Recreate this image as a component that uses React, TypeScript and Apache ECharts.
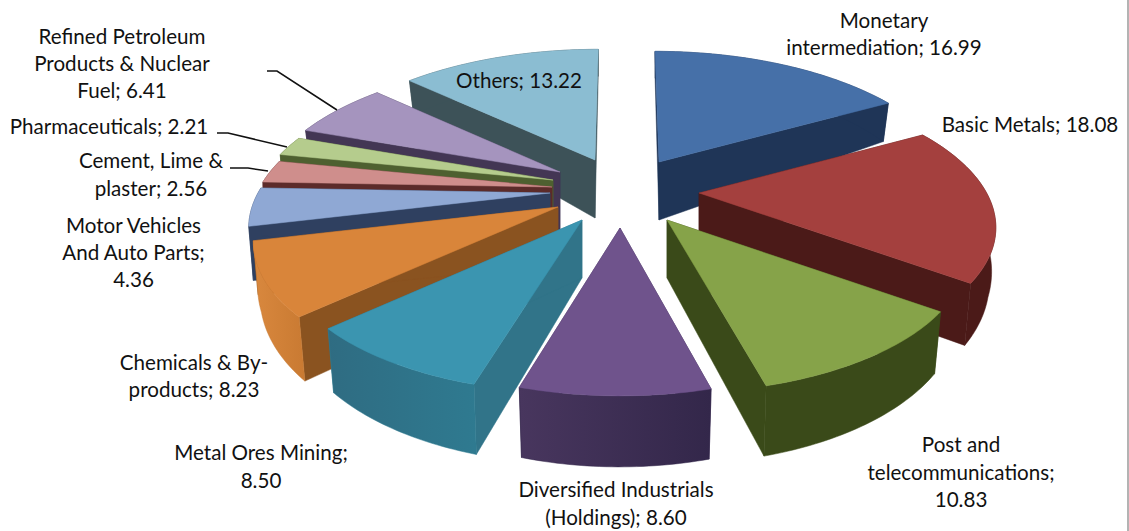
import React, { useEffect, useRef } from "react";
import * as echarts from "echarts";

const categories = [
  "Monetary intermediation", "Basic Metals", "Post and telecommunications", "Diversified Industrials (Holdings)",
  "Metal Ores Mining", "Chemicals & By-products", "Motor Vehicles And Auto Parts", "Cement, Lime & plaster",
  "Pharmaceuticals", "Refined Petroleum Products & Nuclear Fuel", "Others",
];
const values = [16.99, 18.08, 10.83, 8.6, 8.5, 8.23, 4.36, 2.56, 2.21, 6.41, 13.22];
const labelTexts = [
  "Monetary\nintermediation; 16.99", "Basic Metals; 18.08", "Post and\ntelecommunications;\n10.83",
  "Diversified Industrials\n(Holdings); 8.60", "Metal Ores Mining;\n8.50", "Chemicals & By-\nproducts; 8.23",
  "Motor Vehicles\nAnd Auto Parts;\n4.36", "Cement, Lime &\nplaster; 2.56", "Pharmaceuticals; 2.21",
  "Refined Petroleum\nProducts & Nuclear\nFuel; 6.41", "Others; 13.22",
];
const labelCenters = [
  [884, 33.5], [1030, 124], [961, 471.5], [616, 503], [261, 466], [194, 375.5], [133.5, 252], [151, 174], [109, 126], [122, 63], [519, 80],
];
const topColors = ["#4670A8", "#A4403E", "#86A349", "#6F538C", "#3B95B0", "#D9853A", "#8FA8D4", "#CF8E8C", "#B5CC8D", "#A594BE", "#8BBDD2"];
const wallColors = ["#1F3557", "#4B1A18", "#3A4A19", "#433358", "#317489", "#8A5320", "#2F4060", "#5C2B2A", "#4E6030", "#433654", "#3D5258"];
const rimFrom = ["#1F3557", "#4B1A18", "#3A4A19", "#33274A", "#2F7A90", "#C97A32", "#2F4060", "#5C2B2A", "#4E6030", "#433654", "#3D5258"];
const rimTo = ["#1F3557", "#4B1A18", "#3A4A19", "#48365E", "#2F6C82", "#D9883E", "#2F4060", "#5C2B2A", "#4E6030", "#433654", "#3D5258"];
const apexes = [[659, 162], [699, 193], [667, 220], [620, 228], [582, 220], [558, 207], [550, 193], [552, 187], [553, 180], [560, 172], [595, 160]];
const radiusScales = [1, 0.985, 1, 0.97, 1, 1.012, 1, 1, 1, 1, 1];
const drawOrder = [10, 0, 9, 8, 7, 6, 5, 1, 2, 4, 3];
const leaderLines = [
  [[267, 71], [277, 71], [337, 110]],
  [[217, 133], [228, 133], [287, 147]],
  [[230, 168], [248, 168], [268, 171]],
];

const RX = 292, RY = 135, PERSP = 0.22, APEX_DEPTH = 58, RIM_A = 49, RIM_B = 22, BOTTOM_SHRINK = 0.022, LEAN_X = 624, LEAN = 0.114;
const total = values.reduce((a, b) => a + b, 0);
const starts = values.map((_, i) => (values.slice(0, i).reduce((a, b) => a + b, 0) / total) * Math.PI * 2);

function rimPoint(i: number, theta: number, bottom: boolean) {
  const u = Math.sin(theta), v = Math.cos(theta), w = 1 + PERSP * v, s = radiusScales[i];
  const x = (RX * s * u) / w - (apexes[i][0] - LEAN_X) * LEAN * v, y = (-RY * s * v) / w;
  const shrink = bottom ? 1 - BOTTOM_SHRINK * Math.min(1, Math.abs(v) * 3) : 1;
  return [apexes[i][0] + x * shrink, apexes[i][1] + y + (bottom ? RIM_A - RIM_B * v : 0)];
}

function renderSlice(_: any, api: any) {
  const i = api.value(0), a0 = starts[i], a1 = a0 + (api.value(1) / total) * Math.PI * 2;
  const n = Math.max(4, Math.ceil(((a1 - a0) * 180) / Math.PI));
  const topRim: number[][] = [], botRim: number[][] = [];
  for (let k = 0; k <= n; k++) {
    const t = a0 + ((a1 - a0) * k) / n;
    topRim.push(rimPoint(i, t, false));
    botRim.push(rimPoint(i, t, true));
  }
  const apex = apexes[i], apexB = [apex[0], apex[1] + APEX_DEPTH];
  const poly = (points: number[][], fill: any, stroke: string) => ({ type: "polygon", shape: { points }, style: { fill, stroke, lineWidth: 0.5 } });
  const rimFill = new echarts.graphic.LinearGradient(0, 0, 1, 0, [
    { offset: 0, color: rimTo[i] },
    { offset: 1, color: rimFrom[i] },
  ]);
  return {
    type: "group",
    children: [
      poly([apex, topRim[0], botRim[0], apexB], wallColors[i], wallColors[i]),
      poly([apex, topRim[n], botRim[n], apexB], wallColors[i], wallColors[i]),
      poly([...topRim, ...botRim.slice().reverse()], rimFill, rimFrom[i]),
      poly([apex, ...topRim], topColors[i], topColors[i]),
    ],
  };
}

const sliceData = drawOrder.map((i) => ({ name: categories[i], value: [i, values[i]] }));

export default function App() {
  const ref = useRef<HTMLDivElement>(null);
  useEffect(() => {
    const chart = echarts.init(ref.current!, undefined, { renderer: "svg" });
    chart.setOption({
      animation: false,
      backgroundColor: "#ffffff",
      series: [{ type: "custom", coordinateSystem: "none", renderItem: renderSlice, data: sliceData, silent: true }],
      graphic: [
        { type: "line", z: 20, shape: { x1: 1128, y1: 0, x2: 1128, y2: 531 }, style: { stroke: "#9a9a9a", lineWidth: 1.5 } },
        ...leaderLines.map((points) => ({
          type: "polyline", z: 20, shape: { points }, style: { stroke: "#111111", lineWidth: 1.5, fill: "none" },
        })),
        ...labelTexts.map((text, i) => ({
          type: "text", z: 30, x: labelCenters[i][0], y: labelCenters[i][1],
          style: { text, fill: "#111111", font: "20.6px Lato", lineHeight: 27.3, align: "center", verticalAlign: "middle" },
        })),
      ],
    });
    return () => chart.dispose();
  }, []);
  return <div ref={ref} style={{ position: "absolute", left: 0, top: 0, width: 1129, height: 531 }} />;
}
